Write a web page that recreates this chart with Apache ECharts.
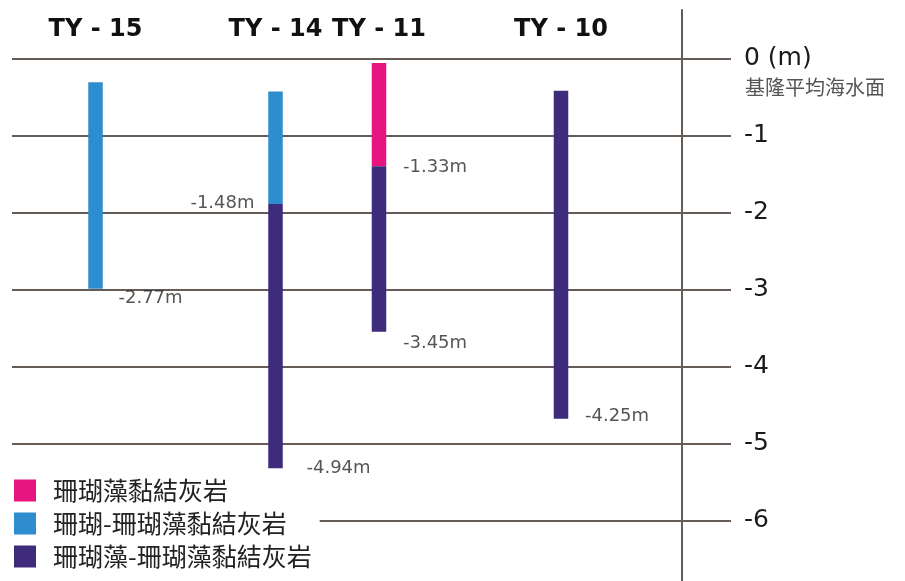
<!DOCTYPE html>
<html><head><meta charset="utf-8">
<script src="https://cdn.jsdelivr.net/npm/echarts@6.0.0/dist/echarts.min.js"></script>
<style>html,body{margin:0;padding:0;background:#fff}#c{width:905px;height:581px}</style>
</head><body><div id="c"></div>
<script>
// ---- data (depths in metres, as drawn) ----
const boreholes = ['TY - 15', 'TY - 14', 'TY - 11', 'TY - 10'];
const lithologies = ['珊瑚藻黏結灰岩', '珊瑚-珊瑚藻黏結灰岩', '珊瑚藻-珊瑚藻黏結灰岩'];
const pinkTop = [null, null, -0.06, null];
const pinkBottom = [null, null, -1.40, null];
const blueTop = [-0.31, -0.43, null, null];
const blueBottom = [-2.99, -1.89, null, null];
const purpleTop = [null, -1.89, -1.40, -0.42];
const purpleBottom = [null, -5.32, -3.55, -4.68];
const depthMin = -6, depthMax = 0, depthStep = 1;
const zeroLabel = '0 (m)';
const datumLabel = '基隆平均海水面';
const labelBorehole = [0, 1, 1, 2, 2, 3];
const labelDepth = [-2.99, -1.89, -5.32, -1.40, -3.55, -4.68];
const labelText = ['-2.77m', '-1.48m', '-4.94m', '-1.33m', '-3.45m', '-4.25m'];

// ---- layout / style ----
const colors = ['#e6157f', '#2d8dcf', '#3f2b7b'];
const columnCenters = [95.5, 275.5, 379, 561];
const labelLayout = [
  {position: 'right', distance: 23, dy: 10},
  {position: 'left', distance: 21, dy: -1},
  {position: 'right', distance: 31, dy: 0},
  {position: 'right', distance: 24, dy: 1},
  {position: 'right', distance: 24, dy: 11},
  {position: 'right', distance: 24, dy: -3}
];
const lineColor = '#655c58';
const gridTop = 58.5, gridBottom = 60.5;

const grids = [{left: 12, right: 174, top: gridTop, bottom: gridBottom}];
const xAxes = [{gridIndex: 0, type: 'value', show: false, min: 0, max: 1}];
const yAxes = [{
  gridIndex: 0, type: 'value', position: 'right', min: depthMin, max: depthMax, interval: depthStep,
  axisLine: {show: false}, axisTick: {show: false},
  splitLine: {show: true, lineStyle: {color: lineColor, width: 2}},
  axisLabel: {margin: 13, fontSize: 25, color: '#1a1a1a', fontFamily: 'DejaVu Sans',
    formatter: v => v === 0 ? zeroLabel : String(v)}
}];
const series = [];

boreholes.forEach((name, i) => {
  const gi = i + 1;
  grids.push({left: columnCenters[i] - 40, width: 80, top: gridTop, bottom: gridBottom});
  xAxes.push({gridIndex: gi, type: 'category', data: [name], position: 'top',
    axisLine: {show: false}, axisTick: {show: false},
    axisLabel: {margin: 17, fontSize: 24, fontWeight: 'bold', color: '#111', fontFamily: 'DejaVu Sans'}});
  yAxes.push({gridIndex: gi, type: 'value', min: depthMin, max: depthMax, show: false, splitLine: {show: false}});
  const tops = [pinkTop[i], blueTop[i], purpleTop[i]].filter(v => v !== null);
  const start = Math.max(...tops);
  series.push({type: 'bar', name: '_base', stack: 's' + i, xAxisIndex: gi, yAxisIndex: gi,
    barWidth: 14.5, silent: true, itemStyle: {color: 'rgba(0,0,0,0)'}, data: [start]});
  const segs = [[pinkTop, pinkBottom], [blueTop, blueBottom], [purpleTop, purpleBottom]];
  segs.forEach(([t, b], k) => {
    series.push({type: 'bar', name: lithologies[k], stack: 's' + i, xAxisIndex: gi, yAxisIndex: gi,
      barWidth: 14.5, itemStyle: {color: colors[k]},
      data: [t[i] === null ? '-' : +(b[i] - t[i]).toFixed(3)]});
  });
  const items = [];
  labelBorehole.forEach((bh, j) => {
    if (bh !== i) return;
    const L = labelLayout[j];
    items.push({value: [0, labelDepth[j]], label: {show: true, formatter: labelText[j],
      position: L.position, distance: L.distance, offset: [0, L.dy]}});
  });
  series.push({type: 'scatter', name: '_labels', xAxisIndex: gi, yAxisIndex: gi, symbolSize: 0, silent: true,
    label: {fontSize: 18, color: '#2a2a2a', fontFamily: 'DejaVu Sans'}, data: items, z: 5});
});

// vertical axis line grid
grids.push({left: 682, width: 2, top: 10, bottom: 0});
xAxes.push({gridIndex: 5, type: 'value', show: false});
yAxes.push({gridIndex: 5, type: 'value', position: 'left', min: 0, max: 1,
  axisLine: {show: true, lineStyle: {color: lineColor, width: 2}},
  axisTick: {show: false}, axisLabel: {show: false}, splitLine: {show: false}});

const chart = echarts.init(document.getElementById('c'), null, {renderer: 'canvas'});
chart.setOption({
  backgroundColor: '#fff',
  animation: false,
  title: {text: datumLabel, left: 745, top: 77, padding: 0,
    textStyle: {fontSize: 20, fontWeight: 'normal', color: '#555', fontFamily: 'Noto Sans CJK TC'}},
  legend: {orient: 'vertical', left: 4, top: 478, itemWidth: 22, itemHeight: 22, itemGap: 8,
    icon: 'rect', padding: [0, 8, 0, 10], backgroundColor: '#fff', selectedMode: false,
    data: lithologies,
    textStyle: {fontSize: 25, color: '#222', fontFamily: 'Noto Sans CJK TC', padding: [0, 0, 0, 12]}},
  grid: grids, xAxis: xAxes, yAxis: yAxes, series: series
});
</script></body></html>
